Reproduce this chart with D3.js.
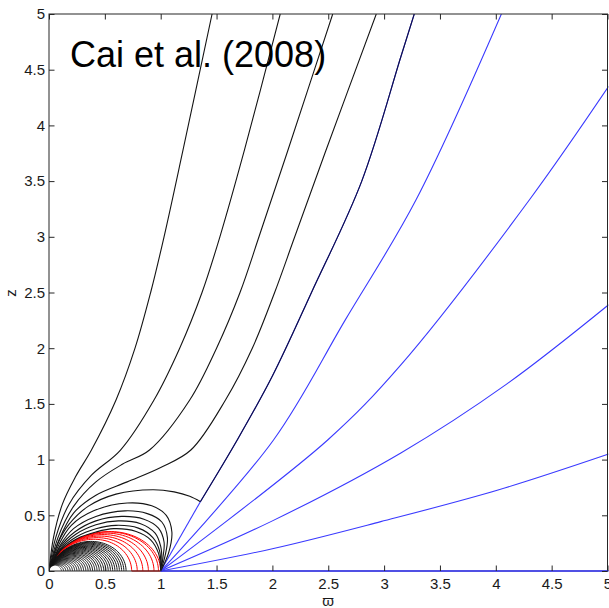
<!DOCTYPE html>
<html><head><meta charset="utf-8">
<script src="https://cdn.jsdelivr.net/npm/d3@7"></script>
<style>
body{margin:0;background:#fff}
svg{display:block}
text{font-family:"Liberation Sans",Arial,Helvetica,sans-serif}
</style>
</head><body>
<svg id="chart" width="609" height="608"></svg>
<script>
// ---- tick labels ----
const xTickValues = [0,0.5,1,1.5,2,2.5,3,3.5,4,4.5,5];
const yTickValues = [0,0.5,1,1.5,2,2.5,3,3.5,4,4.5,5];
const xLabel = "ϖ";
const yLabel = "z";
const titleText = "Cai et al. (2008)";

// ---- open field lines from the star (black) ----
const open1 = [[0,0],[0.04,0.3],[0.12,0.6],[0.24,0.85],[0.38,1.086],[0.60,1.535],[0.77,2.0],[0.91,2.5],[1.03,3.0],[1.20,3.78],[1.46,5]];
const open2 = [[0,0],[0.06,0.3],[0.18,0.6],[0.38,0.86],[0.64,1.086],[0.94,1.535],[1.17,2.0],[1.37,2.5],[1.53,3.0],[1.75,3.78],[2.07,5]];
const open3 = [[0,0],[0.08,0.3],[0.22,0.58],[0.42,0.8],[0.66,0.96],[0.9,1.086],[1.26,1.535],[1.5,2.0],[1.71,2.5],[1.88,3.0],[2.13,3.75],[2.54,5]];
const open4 = [[0,0],[0.09,0.28],[0.22,0.52],[0.42,0.68],[0.7,0.8],[1.0,0.93],[1.27,1.086],[1.58,1.535],[1.82,2.0],[2.02,2.5],[2.2,3.0],[2.47,3.75],[2.93,5]];
// last closed line, meeting the separatrix
const lastClosed = [[0,0],[0.08,0.25],[0.18,0.42],[0.35,0.58],[0.6,0.69],[0.93,0.73],[1.12,0.71],[1.26,0.67],[1.355,0.622]];
// continuation above the junction
const junctionUp = [[1.355,0.622],[1.685,1.176],[2.0,1.75],[2.35,2.5],[2.8,3.5],[3.15,4.616],[3.27,5]];

// ---- black lines closing at the Y point (1,0) ----
const yLoop1 = [[0,0],[0.09,0.24],[0.2,0.41],[0.4,0.54],[0.7,0.61],[0.92,0.585],[1.05,0.5],[1.1,0.35],[1.07,0.16],[1,0]];
const yLoop2 = [[0,0],[0.1,0.23],[0.22,0.38],[0.42,0.49],[0.68,0.54],[0.88,0.515],[1.01,0.44],[1.06,0.3],[1.04,0.14],[1,0]];
const yLoop3 = [[0,0],[0.1,0.215],[0.23,0.35],[0.42,0.45],[0.65,0.49],[0.85,0.465],[0.98,0.385],[1.03,0.26],[1.02,0.12],[1,0]];
const yLoop4 = [[0,0],[0.1,0.2],[0.24,0.33],[0.42,0.415],[0.62,0.45],[0.82,0.425],[0.95,0.34],[1.0,0.22],[1.01,0.1],[1,0]];
const yLoop5 = [[0,0],[0.1,0.19],[0.25,0.31],[0.42,0.38],[0.6,0.41],[0.8,0.385],[0.93,0.3],[0.99,0.18],[1,0]];
const yLoop6 = [[0,0],[0.1,0.18],[0.25,0.29],[0.42,0.35],[0.58,0.38],[0.78,0.355],[0.91,0.28],[0.98,0.16],[1,0]];

// ---- dipole-like closed loops: equatorial footpoint radius ----
const coreRadii = [0.05,0.07,0.09,0.11,0.13,0.15,0.17,0.19,0.21,0.23,0.25,0.27,0.29,0.31,0.33,0.35,0.37,0.39,0.41,0.43,0.45,0.47,0.49,0.51,0.53,0.55,0.57,0.59,0.61,0.63,0.65,0.67,0.69];
// red lines: [equatorial footpoint, height factor]
const redLoops = [[0.74,1.0],[0.79,0.985],[0.84,0.97],[0.89,0.955],[0.94,0.94],[0.98,0.93],[1.0,0.92]];
const redSheet = [[0.74,0],[1,0]];

// ---- blue open lines from the Y point ----
const blueA = [[1,0],[1.355,0.622]];
const blueA2 = [[1.355,0.622],[1.685,1.176],[2.0,1.75],[2.35,2.5],[2.8,3.5],[3.15,4.616],[3.27,5]];
const blueB = [[1,0],[2.01,1.176],[2.65,2.25],[3.285,3.33],[4.05,5]];
const blueC = [[1,0],[2.495,1.176],[3.15,1.85],[4.30,3.33],[5.01,4.35]];
const blueD = [[1,0],[2.0,0.45],[3.15,1.06],[4.1,1.68],[5.01,2.39]];
const blueE = [[1,0],[2.0,0.2],[2.97,0.443],[4.02,0.727],[5.01,1.05]];
const blueF = [[1,0],[5.1,0]];

const x = d3.scaleLinear().domain([0,5]).range([49,607.5]);
const y = d3.scaleLinear().domain([0,5]).range([571,14]);

const svg = d3.select("#chart");
svg.append("defs").append("clipPath").attr("id","plotclip")
  .append("rect").attr("x",x(0)).attr("y",y(5)).attr("width",x(5)-x(0)+1).attr("height",y(0)-y(5)+1);

const g = svg.append("g").attr("clip-path","url(#plotclip)");
const smooth = d3.line().x(d=>x(d[0])).y(d=>y(d[1])).curve(d3.curveCatmullRom.alpha(0.5));

function dipole(R, s){
  const pts = [];
  const th0 = Math.asin(Math.sqrt(Math.min(1,0.004/R)));
  const n = 60;
  for(let i=0;i<=n;i++){
    const th = th0 + (Math.PI/2 - th0)*i/n;
    const sn = Math.sin(th);
    pts.push([R*sn*sn*sn, s*R*sn*sn*Math.cos(th)]);
  }
  pts.unshift([0,0]);
  return pts;
}

const BLACK = "#141414", RED = "#ff0000", BLUE = "#3a3aff";

coreRadii.forEach(R=>{
  g.append("path").attr("d",smooth(dipole(R,1))).attr("fill","none")
   .attr("stroke",BLACK).attr("stroke-width",1);
});
g.append("path").attr("d",smooth(redSheet)).attr("fill","none").attr("stroke",RED).attr("stroke-width",1.2);
redLoops.forEach(([R,s])=>{
  g.append("path").attr("d",smooth(dipole(R,s))).attr("fill","none")
   .attr("stroke",RED).attr("stroke-width",1);
});
[blueA,blueA2,blueB,blueC,blueD,blueE].forEach(l=>{
  g.append("path").attr("d",smooth(l)).attr("fill","none").attr("stroke",BLUE).attr("stroke-width",1.1);
});
[yLoop6,yLoop5,yLoop4,yLoop3,yLoop2,yLoop1,lastClosed,open4,open3,open2,open1].forEach(l=>{
  g.append("path").attr("d",smooth(l)).attr("fill","none").attr("stroke",BLACK).attr("stroke-width",1.1);
});
g.append("path").attr("d",smooth(junctionUp)).attr("fill","none").attr("stroke","#101040").attr("stroke-width",1.1);
g.append("path").attr("d",d3.arc()({innerRadius:0,outerRadius:x(0.05)-x(0),startAngle:-Math.PI/2,endAngle:Math.PI/2}))
  .attr("transform",`translate(${x(0.055)},${y(0)})`).attr("fill","#fff");

const AX = "#262626";
svg.append("rect").attr("x",x(0)).attr("y",y(5)).attr("width",x(5)-x(0)).attr("height",y(0)-y(5))
  .attr("fill","none").attr("stroke",AX).attr("stroke-width",1);
svg.append("path").attr("d",smooth(blueF)).attr("fill","none").attr("stroke",BLUE).attr("stroke-width",1.6)
  .attr("clip-path","url(#plotclip)");

const tl = 5.5;
const axB = d3.axisBottom(x).tickValues(xTickValues).tickSizeInner(-tl).tickSizeOuter(0).tickPadding(7).tickFormat(d3.format("~g"));
const axT = d3.axisTop(x).tickValues(xTickValues).tickSizeInner(-tl).tickSizeOuter(0).tickFormat("");
const axL = d3.axisLeft(y).tickValues(yTickValues).tickSizeInner(-tl).tickSizeOuter(0).tickPadding(4).tickFormat(d3.format("~g"));
const axR = d3.axisRight(y).tickValues(yTickValues).tickSizeInner(-tl).tickSizeOuter(0).tickFormat("");
function styleAxis(sel){
  sel.select(".domain").remove();
  sel.selectAll(".tick line").attr("stroke",AX);
  sel.selectAll(".tick text").attr("fill","#1a1a1a").style("font-size","15px").style("font-family",'"Liberation Sans",Arial,sans-serif');
}
svg.append("g").attr("transform",`translate(0,${y(0)})`).call(axB).call(styleAxis);
svg.append("g").attr("transform",`translate(0,${y(5)})`).call(axT).call(styleAxis);
svg.append("g").attr("transform",`translate(${x(0)},0)`).call(axL).call(styleAxis);
svg.append("g").attr("transform",`translate(${x(5)},0)`).call(axR).call(styleAxis);

svg.append("text").attr("x",328).attr("y",606).attr("text-anchor","middle")
  .style("font-size","15px").attr("fill","#1a1a1a").text(xLabel);
svg.append("text").attr("transform","translate(16,293) rotate(-90)").attr("text-anchor","middle")
  .style("font-size","15px").attr("fill","#1a1a1a").text(yLabel);
svg.append("text").attr("x",70).attr("y",67).style("font-size","36px").attr("fill","#000").text(titleText);
</script>
</body></html>
